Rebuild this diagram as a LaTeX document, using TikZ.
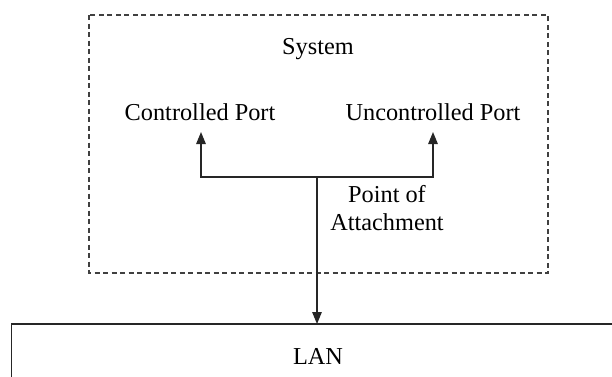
\documentclass[tikz,border=0pt]{standalone}
\usepackage{fontspec}
\setmainfont{Liberation Serif}
\usetikzlibrary{arrows.meta}
\tikzset{
  lbl/.style={inner sep=0pt, anchor=base, font=\fontsize{24.3}{28}\selectfont, align=center},
  wire/.style={line width=1.3pt, draw=black!85},
  sysbox/.style={line width=1.3pt, draw=black!75, dash pattern=on 5pt off 3.5pt},
  tip/.style={-{Triangle[length=12pt,width=9.5pt]}}
}
\begin{document}
\begin{tikzpicture}[x=1pt,y=-1pt]
  \useasboundingbox (0,0) rectangle (612,376);
  \clip (0,0) rectangle (612,376);

  % system boundary
  \draw[sysbox] (89,15) rectangle (548,273);

  % labels (a multi-line label sits on the baseline of its last line)
  \node[lbl] (sys) at (318,54) {System};
  \node[lbl] (cp) at (200,120) {Controlled Port};
  \node[lbl] (up) at (433,120) {Uncontrolled Port};
  \node[lbl] (poa) at (387,230) {Point of\\Attachment};
  \node[lbl] (lan) at (318,364) {LAN};

  % connection points
  \coordinate (cptip) at (201,132);
  \coordinate (uptip) at (433,132);
  \coordinate (junc) at (317,177);
  \coordinate (lantop) at (317,324);

  % LAN box (extends past the right and bottom edges)
  \draw[wire] (11.5,380) -- (11.5,324) -- (620,324);

  % port fan-out and attachment link
  \draw[wire, tip] (junc) -| (cptip);
  \draw[wire, tip] (junc) -| (uptip);
  \draw[wire, tip] (junc) -- (lantop);
\end{tikzpicture}
\end{document}
